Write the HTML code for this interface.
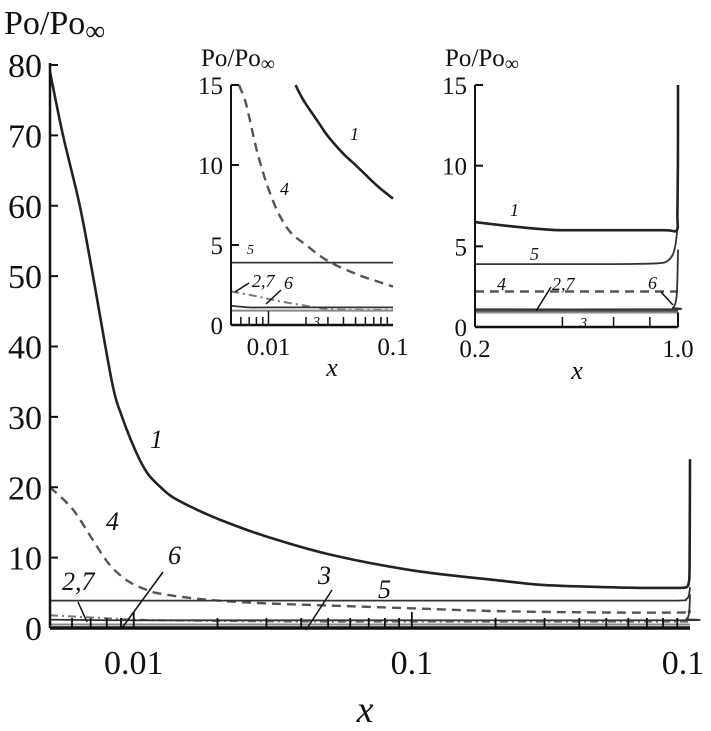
<!DOCTYPE html>
<html><head><meta charset="utf-8"><style>
body{margin:0;background:#fff}
svg{display:block}
text{font-family:"Liberation Serif","Times New Roman",Times,serif;fill:#111}
</style></head><body>
<svg id="c" width="711" height="731" viewBox="0 0 711 731"></svg>
<script>
// ---- main panel data ----
const mainYTicks=[0,10,20,30,40,50,60,70,80];
const mainXLabels=["0.01","0.1","0.1"];
const mainXLabelVals=[0.01,0.1,1];
const m1x=[0.005,0.00557,0.0064,0.00714,0.00835,0.00908,0.0102,0.0112,0.0125,0.0138,0.0169,0.0216,0.03,0.05,0.1,0.2,0.3,0.5,0.7,0.9,0.97,0.99,0.997,1.0];
const m1y=[79,70,60,50,35,30,25,22,20,18.6,16.8,15,13,10.5,8.2,6.8,6.1,5.8,5.7,5.7,5.8,6.5,9,24];
const m4x=[0.005,0.006,0.007,0.008,0.009,0.01,0.011,0.012,0.015,0.02,0.03,0.05,0.1,0.2,0.5,0.95,0.99,1.0];
const m4y=[20,17,13,9.5,7.4,6.2,5.5,5.0,4.4,3.9,3.5,3.2,2.8,2.4,2.2,2.2,2.3,2.6];
const m5x=[0.005,0.1,0.5,0.9,0.97,0.99,0.997,1.0];
const m5y=[3.9,3.9,3.9,3.9,4.1,4.6,5.3,5.8];
const m27x=[0.005,0.007,0.01,0.015,0.02,0.05,1.0];
const m27y=[1.8,1.5,1.2,1.05,1.0,0.9,0.9];
const m6x=[0.005,0.01,0.1,0.9,0.97,0.99,0.997,1.0];
const m6y=[1.2,1.1,1.1,1.1,1.3,1.9,3.2,4.8];
const m3x=[0.005,1.0];
const m3y=[0.5,0.5];
// ---- left inset data ----
const lYTicks=[0,5,10,15];
const lXLabels=["0.01","0.1"];
const lXLabelVals=[0.01,0.1];
const l1x=[0.0165,0.018,0.02,0.025,0.03,0.04,0.05,0.06,0.07,0.08,0.1];
const l1y=[15,14.4,13.8,12.7,11.8,10.7,10,9.4,8.9,8.5,7.9];
const l4x=[0.0058,0.0065,0.007,0.008,0.009,0.01,0.012,0.015,0.02,0.03,0.05,0.07,0.1];
const l4y=[15,14,13,11,9.6,8.5,7,5.8,5,4,3.2,2.8,2.4];
const l5x=[0.005,0.1];
const l5y=[3.9,3.9];
const l27x=[0.005,0.008,0.012,0.02,0.03,0.05,0.1];
const l27y=[2.1,1.8,1.5,1.2,1.0,0.95,0.95];
const l6x=[0.005,0.007,0.01,0.1];
const l6y=[1.2,1.1,1.1,1.1];
const l3x=[0.005,0.1];
const l3y=[0.9,0.9];
// ---- right inset data ----
const rYTicks=[0,5,10,15];
const rXLabels=["0.2","1.0"];
const rXLabelVals=[0.2,1.0];
const r1x=[0.2,0.25,0.3,0.35,0.4,0.6,0.9,0.99,0.995,0.999,1.0];
const r1y=[6.5,6.3,6.15,6.05,6.0,6.0,6.0,6.0,7,10,15];
const r5x=[0.2,0.6,0.85,0.92,0.96,0.98,0.99,0.995];
const r5y=[3.9,3.9,3.95,4.1,4.5,5.1,5.7,6.0];
const r4x=[0.2,1.0];
const r4y=[2.2,2.2];
const r6x=[0.2,0.9,0.96,0.98,0.99,0.995,1.0];
const r6y=[1.1,1.1,1.2,1.5,2.0,3.0,4.8];
const r27x=[0.2,1.0];
const r27y=[1.0,1.0];
const r3x=[0.2,1.0];
const r3y=[0.9,0.9];

const NS="http://www.w3.org/2000/svg";
const svg=document.getElementById('c');
function mk(tag,attrs,parent){const e=document.createElementNS(NS,tag);for(const k in attrs)e.setAttribute(k,attrs[k]);(parent||svg).appendChild(e);return e;}
function logScale(d0,d1,r0,r1){return v=>r0+(Math.log10(v)-Math.log10(d0))/(Math.log10(d1)-Math.log10(d0))*(r1-r0);}
function linScale(d0,d1,r0,r1){return v=>r0+(v-d0)/(d1-d0)*(r1-r0);}
function line(xs,ys,sx,sy,style,name){
  const pts=xs.map((x,i)=>[sx(x),sy(ys[i])]);
  let d='M'+pts[0][0].toFixed(1)+','+pts[0][1].toFixed(1);
  for(let i=0;i<pts.length-1;i++){
    const p0=pts[Math.max(0,i-1)],p1=pts[i],p2=pts[i+1],p3=pts[Math.min(pts.length-1,i+2)];
    const c1=[p1[0]+(p2[0]-p0[0])/6,p1[1]+(p2[1]-p0[1])/6];
    const c2=[p2[0]-(p3[0]-p1[0])/6,p2[1]-(p3[1]-p1[1])/6];
    d+='C'+c1[0].toFixed(1)+','+c1[1].toFixed(1)+' '+c2[0].toFixed(1)+','+c2[1].toFixed(1)+' '+p2[0].toFixed(1)+','+p2[1].toFixed(1);
  }
  const p=mk('path',Object.assign({d:d,fill:'none'},style));
  
  
}
function txt(x,y,s,size,name,extra){
  const t=mk('text',Object.assign({x:x,y:y,'font-size':size,'font-family':'Liberation Serif, Times New Roman, serif'},extra||{}));t.textContent=s;
  
  
  return t;
}
const solid={stroke:'#222','stroke-width':2.6};
const thin={stroke:'#333','stroke-width':1.8};
const dash={stroke:'#555','stroke-width':2.4,'stroke-dasharray':'9,6'};
const dashdot={stroke:'#777','stroke-width':2,'stroke-dasharray':'8,4,2,4'};
const gray={stroke:'#888','stroke-width':2};

// ---- main panel ----
(function(){
  const L=50,R=690,T=65,B=628;
  const sx=logScale(0.005,1,L,R), sy=linScale(0,80,B,T);
  line(m1x,m1y,sx,sy,solid,'curve-1');
  line(m4x,m4y,sx,sy,dash,'curve-4');
  line(m5x,m5y,sx,sy,thin,'curve-5');
  line(m27x,m27y,sx,sy,dashdot,'curve-2-7');
  line(m6x,m6y,sx,sy,thin,'curve-6');
  line(m3x,m3y,sx,sy,gray,'curve-3');
  mk('line',{x1:L,y1:B,x2:L,y2:T-2,stroke:'#111','stroke-width':2.5});
  mk('line',{x1:L,y1:B,x2:R,y2:B,stroke:'#111','stroke-width':3.5});
  mainYTicks.forEach(v=>{mk('line',{x1:L,y1:sy(v),x2:L+8,y2:sy(v),stroke:'#111','stroke-width':2});
    txt(42,sy(v)+12,String(v),34,'y-tick-label',{'text-anchor':'end'});});
  const minor=[];for(let d=0.001;d<1;d*=10)for(let k=1;k<10;k++){const v=d*k;if(v>=0.005&&v<=1)minor.push(v);}
  minor.forEach(v=>mk('line',{x1:sx(v),y1:B,x2:sx(v),y2:B-(Math.abs(Math.log10(v)-Math.round(Math.log10(v)))<1e-6?16:10),stroke:'#111','stroke-width':1.8}));
  mainXLabels.forEach((s,i)=>txt(i==2?683:sx(mainXLabelVals[i]),674,s,34,'x-tick-label',{'text-anchor':'middle'}));
  txt(365,722,'x',38,'x-axis-title',{'font-style':'italic','text-anchor':'middle'});
  const y=txt(4,34,'Po/Po',34,'y-axis-title');
  const sub=mk('tspan',{dy:6,'font-size':28},y);sub.textContent='∞';
  const labs=[['1',150,448],['4',106,530],['2,7',62,590],['6',168,564],['3',318,584],['5',378,598]];
  labs.forEach(l=>txt(l[1],l[2],l[0],26,'curve-label-'+l[0].replace(',','-'),{'font-style':'italic'}));
  mk('line',{x1:78,y1:602,x2:87,y2:622,stroke:'#111','stroke-width':1.5});
  mk('line',{x1:163,y1:572,x2:122,y2:628,stroke:'#111','stroke-width':1.5});
  mk('line',{x1:332,y1:590,x2:306,y2:630,stroke:'#111','stroke-width':1.5});
})();

// ---- left inset ----
(function(){
  const L=231,R=393,T=85,B=325;
  const sx=logScale(0.005,0.1,L,R), sy=linScale(0,15,B,T);
  line(l1x,l1y,sx,sy,solid,'inset-left-curve-1');
  line(l4x,l4y,sx,sy,dash,'inset-left-curve-4');
  line(l5x,l5y,sx,sy,thin,'inset-left-curve-5');
  line(l27x,l27y,sx,sy,dashdot,'inset-left-curve-2-7');
  line(l6x,l6y,sx,sy,thin,'inset-left-curve-6');
  line(l3x,l3y,sx,sy,gray,'inset-left-curve-3');
  mk('line',{x1:L,y1:B,x2:L,y2:T,stroke:'#111','stroke-width':2});
  mk('line',{x1:L,y1:B,x2:R,y2:B,stroke:'#111','stroke-width':2.5});
  lYTicks.forEach(v=>{mk('line',{x1:L,y1:sy(v),x2:L+8,y2:sy(v),stroke:'#111','stroke-width':2});
    txt(223,sy(v)+9,String(v),25,'inset-left-y-tick-label',{'text-anchor':'end'});});
  for(let d=0.001;d<0.1;d*=10)for(let k=1;k<10;k++){const v=d*k;if(v>0.005&&v<0.1)mk('line',{x1:sx(v),y1:B,x2:sx(v),y2:B-(k==1?14:8),stroke:'#111','stroke-width':1.5});}
  lXLabels.forEach((s,i)=>txt(sx(lXLabelVals[i]),355,s,25,'inset-left-x-tick-label',{'text-anchor':'middle'}));
  txt(332,376,'x',26,'inset-left-x-title',{'font-style':'italic','text-anchor':'middle'});
  const y=txt(201,66,'Po/Po',25,'inset-left-y-title');const s=mk('tspan',{dy:4,'font-size':20},y);s.textContent='∞';
  [['1',350,140],['4',280,195],['5',247,254],['2,7',252,287],['6',284,289],['3',313,326]].forEach(l=>txt(l[1],l[2],l[0],l[0]=='3'||l[0]=='5'?14:18,'inset-left-label-'+l[0].replace(',','-'),{'font-style':'italic'}));
  mk('line',{x1:249,y1:283,x2:235,y2:292,stroke:'#111','stroke-width':1.5});
  mk('line',{x1:281,y1:290,x2:266,y2:304,stroke:'#111','stroke-width':1.5});
})();

// ---- right inset ----
(function(){
  const L=475,R=678,T=85,B=327;
  const sx=logScale(0.2,1,L,R), sy=linScale(0,15,B,T);
  line(r1x,r1y,sx,sy,solid,'inset-right-curve-1');
  line(r5x,r5y,sx,sy,thin,'inset-right-curve-5');
  line(r4x,r4y,sx,sy,dash,'inset-right-curve-4');
  line(r6x,r6y,sx,sy,thin,'inset-right-curve-6');
  line(r27x,r27y,sx,sy,{stroke:'#444','stroke-width':2.5},'inset-right-curve-2-7');
  line(r3x,r3y,sx,sy,gray,'inset-right-curve-3');
  mk('line',{x1:L,y1:B,x2:L,y2:T,stroke:'#111','stroke-width':2});
  mk('line',{x1:L,y1:B,x2:R,y2:B,stroke:'#111','stroke-width':2.5});
  mk('line',{x1:R,y1:B,x2:R,y2:sy(0.9),stroke:'#111','stroke-width':2});
  rYTicks.forEach(v=>{mk('line',{x1:L,y1:sy(v),x2:L+8,y2:sy(v),stroke:'#111','stroke-width':2});
    txt(467,sy(v)+9,String(v),25,'inset-right-y-tick-label',{'text-anchor':'end'});});
  [0.4,0.6,0.8].forEach(v=>mk('line',{x1:sx(v),y1:B,x2:sx(v),y2:B-10,stroke:'#111','stroke-width':1.5}));
  rXLabels.forEach((s,i)=>txt(sx(rXLabelVals[i]),357,s,25,'inset-right-x-tick-label',{'text-anchor':'middle'}));
  txt(577,379,'x',26,'inset-right-x-title',{'font-style':'italic','text-anchor':'middle'});
  const y=txt(445,66,'Po/Po',25,'inset-right-y-title');const s=mk('tspan',{dy:4,'font-size':20},y);s.textContent='∞';
  [['1',510,216],['5',530,260],['4',497,290],['2,7',552,290],['6',648,289],['3',580,327]].forEach(l=>txt(l[1],l[2],l[0],l[0]=='3'?14:18,'inset-right-label-'+l[0].replace(',','-'),{'font-style':'italic'}));
  mk('line',{x1:551,y1:287,x2:536,y2:311,stroke:'#111','stroke-width':1.5});
  mk('line',{x1:661,y1:292,x2:673,y2:305,stroke:'#111','stroke-width':1.5});
})();
</script>
</body></html>
